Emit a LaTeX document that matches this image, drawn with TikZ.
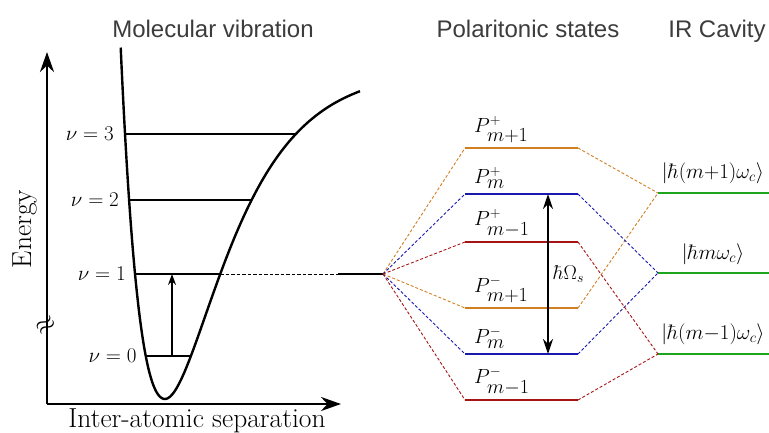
\RequirePackage{fix-cm}
\documentclass[tikz,border=0pt]{standalone}
\usepackage{amsmath}
\usepackage{fontspec}
\newfontfamily\titlefont{Liberation Sans}
\usetikzlibrary{arrows.meta}
\DeclareMathSizes{20.5}{20.5}{20}{14}

\definecolor{titlegray}{RGB}{60,60,60}
\definecolor{porange}{RGB}{208,128,35}
\definecolor{pblue}{RGB}{25,25,175}
\definecolor{pred}{RGB}{165,20,20}
\definecolor{cgreen}{RGB}{30,165,30}

\begin{document}
\begin{tikzpicture}[x=1pt,y=-1pt,
  axis/.style={line width=2.8pt},
  level/.style={line width=2.8pt},
  conn/.style={dash pattern=on 3pt off 2pt, line width=0.9pt},
  vlab/.style={font=\fontsize{21}{24}\selectfont, anchor=east, inner sep=0pt},
  plab/.style={font=\fontsize{20.5}{24}\selectfont, anchor=south west, inner sep=0pt},
  clab/.style={font=\fontsize{21}{24}\selectfont, anchor=south, inner sep=0pt},
  title/.style={font=\titlefont\fontsize{24}{28}\selectfont, text=titlegray, anchor=base}]
\useasboundingbox (0,0) rectangle (769,432);
% Morse potential: depth, widths, minimum
\pgfmathsetmacro{\De}{330}
\pgfmathsetmacro{\aL}{0.016}
\pgfmathsetmacro{\aR}{0.0173}
\pgfmathsetmacro{\xm}{165}
\pgfmathsetmacro{\ym}{399}
\def\EvA{43}
\def\EvB{125}
\def\EvC{199}
\def\EvD{265}
\def\PL{465}
\def\PR{578}
\def\CL{658}
\def\CR{772}

% Axes
\coordinate (orig) at (47,404);
\coordinate (ytip) at (47,52);
\coordinate (xtip) at (341,404);
\draw[axis,-{Stealth[length=20pt,width=14pt]}] (orig) -- (ytip);
\draw[axis,-{Stealth[length=20pt,width=14pt]}] (orig) -- (xtip);
\node[rotate=35, font=\fontsize{26}{28}\selectfont, inner sep=0pt] (brk) at (46,326) {$\approx$};
\node[rotate=90, anchor=base, font=\fontsize{27.5}{30}\selectfont] (elab) at (31,229) {Energy};
\node[anchor=base, font=\fontsize{27.5}{30}\selectfont] (xlab) at (197,427) {Inter-atomic separation};

% Potential curve
\draw[line width=2.4pt, line join=round]
  plot[domain=-44.3:0, samples=60, smooth]
    ({\xm+\x},{\ym-\De*(1-exp(-\aL*(\x)))*(1-exp(-\aL*(\x)))})
  -- plot[domain=0:195, samples=80, smooth]
    ({\xm+\x},{\ym-\De*(1-exp(-\aR*(\x)))*(1-exp(-\aR*(\x)))});

% Vibrational levels
\coordinate (v0a) at ({\xm-ln(1+sqrt(\EvA/\De))/\aL},{\ym-\EvA});
\coordinate (v0b) at ({\xm-ln(1-sqrt(\EvA/\De))/\aR},{\ym-\EvA});
\coordinate (v1a) at ({\xm-ln(1+sqrt(\EvB/\De))/\aL},{\ym-\EvB});
\coordinate (v1b) at ({\xm-ln(1-sqrt(\EvB/\De))/\aR},{\ym-\EvB});
\coordinate (v2a) at ({\xm-ln(1+sqrt(\EvC/\De))/\aL},{\ym-\EvC});
\coordinate (v2b) at ({\xm-ln(1-sqrt(\EvC/\De))/\aR},{\ym-\EvC});
\coordinate (v3a) at ({\xm-ln(1+sqrt(\EvD/\De))/\aL},{\ym-\EvD});
\coordinate (v3b) at ({\xm-ln(1-sqrt(\EvD/\De))/\aR},{\ym-\EvD});
\draw[level] (v0a) -- (v0b);
\draw[level] (v1a) -- (v1b);
\draw[level] (v2a) -- (v2b);
\draw[level] (v3a) -- (v3b);
\node[vlab, xshift=-9pt] (l0) at (v0a) {$\nu=0$};
\node[vlab, xshift=-9pt] (l1) at (v1a) {$\nu=1$};
\node[vlab, xshift=-10pt] (l2) at (v2a) {$\nu=2$};
\node[vlab, xshift=-11pt] (l3) at (v3a) {$\nu=3$};
\coordinate (ex0) at (172,{\ym-\EvA});
\coordinate (ex1) at (172,{\ym-\EvB});
\draw[line width=1.3pt, -{Stealth[length=11pt,width=8pt]}] (ex0) -- (ex1);

% Molecular level feeding the polaritons
\coordinate (dend) at (338,274);
\coordinate (mol) at (383,274);
\draw[dash pattern=on 3.5pt off 2pt, line width=1pt] (v1b) -- (dend);
\draw[level] (dend) -- (mol);

% Polaritonic levels
\coordinate (pU1a) at (\PL,148); \coordinate (pU1b) at (\PR,148);
\coordinate (pU0a) at (\PL,194); \coordinate (pU0b) at (\PR,194);
\coordinate (pUma) at (\PL,242); \coordinate (pUmb) at (\PR,242);
\coordinate (pL1a) at (\PL,308); \coordinate (pL1b) at (\PR,308);
\coordinate (pL0a) at (\PL,354); \coordinate (pL0b) at (\PR,354);
\coordinate (pLma) at (\PL,400); \coordinate (pLmb) at (\PR,400);
\draw[level, porange] (pU1a) -- (pU1b);
\draw[level, pblue] (pU0a) -- (pU0b);
\draw[level, pred] (pUma) -- (pUmb);
\draw[level, porange] (pL1a) -- (pL1b);
\draw[level, pblue] (pL0a) -- (pL0b);
\draw[level, pred] (pLma) -- (pLmb);
\node[plab, xshift=9pt, yshift=5pt] (tU1) at (pU1a) {$P^{\scriptscriptstyle +}_{m+1}$};
\node[plab, xshift=9pt, yshift=5pt] (tU0) at (pU0a) {$P^{\scriptscriptstyle +}_{m}$};
\node[plab, xshift=9pt, yshift=5pt] (tUm) at (pUma) {$P^{\scriptscriptstyle +}_{m-1}$};
\node[plab, xshift=9pt, yshift=5pt] (tL1) at (pL1a) {$P^{\scriptscriptstyle -}_{m+1}$};
\node[plab, xshift=9pt, yshift=5pt] (tL0) at (pL0a) {$P^{\scriptscriptstyle -}_{m}$};
\node[plab, xshift=9pt, yshift=5pt] (tLm) at (pLma) {$P^{\scriptscriptstyle -}_{m-1}$};

% Rabi splitting
\coordinate (rabiT) at (548,194);
\coordinate (rabiB) at (548,354);
\draw[line width=2.4pt, {Stealth[length=15pt,width=10pt]}-{Stealth[length=15pt,width=10pt]}] (rabiT) -- (rabiB);
\node[anchor=west, inner sep=0pt, font=\fontsize{20}{24}\selectfont] (rabi) at (553,274) {$\hbar\Omega_s$};

% Cavity modes
\coordinate (c1a) at (\CL,193); \coordinate (c1b) at (\CR,193);
\coordinate (c0a) at (\CL,273); \coordinate (c0b) at (\CR,273);
\coordinate (cma) at (\CL,354); \coordinate (cmb) at (\CR,354);
\draw[level, cgreen] (c1a) -- (c1b);
\draw[level, cgreen] (c0a) -- (c0b);
\draw[level, cgreen] (cma) -- (cmb);
\node[clab, xshift=55pt, yshift=9pt] (k1) at (c1a) {$|\hbar(m{+}1)\omega_c\rangle$};
\node[clab, xshift=55pt, yshift=8pt] (k0) at (c0a) {$|\hbar m\omega_c\rangle$};
\node[clab, xshift=55pt, yshift=9pt] (km) at (cma) {$|\hbar(m{-}1)\omega_c\rangle$};

% Couplings
\draw[conn, porange] (mol) -- (pU1a);
\draw[conn, pblue] (mol) -- (pU0a);
\draw[conn, pred] (mol) -- (pUma);
\draw[conn, porange] (mol) -- (pL1a);
\draw[conn, pblue] (mol) -- (pL0a);
\draw[conn, pred] (mol) -- (pLma);
\draw[conn, porange] (pU1b) -- (c1a);
\draw[conn, porange] (pL1b) -- (c1a);
\draw[conn, pblue] (pU0b) -- (c0a);
\draw[conn, pblue] (pL0b) -- (c0a);
\draw[conn, pred] (pUmb) -- (cma);
\draw[conn, pred] (pLmb) -- (cma);

% Titles
\node[title] (t1) at (213,37) {Molecular vibration};
\node[title] (t2) at (528,37) {Polaritonic states};
\node[title] (t3) at (717,37) {IR Cavity};
\end{tikzpicture}
\end{document}
